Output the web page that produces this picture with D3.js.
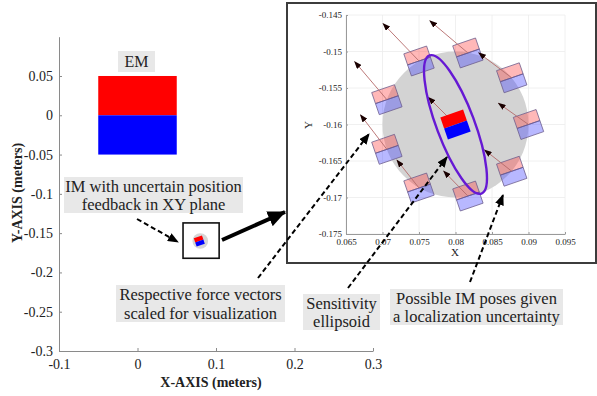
<!DOCTYPE html>
<html>
<head>
<meta charset="utf-8">
<script src="https://cdn.jsdelivr.net/npm/d3@7"></script>
<style>
  body { margin: 0; background: #fff; }
  svg text { font-family: "Liberation Serif", "DejaVu Serif", serif; fill: #222; }
</style>
</head>
<body>
<script>
'use strict'

const serif = '"Liberation Serif", "DejaVu Serif", serif';

// main figure ticks
const mainXTicks = [-0.1, 0, 0.1, 0.2, 0.3];
const mainYTicks = [-0.3, -0.25, -0.2, -0.15, -0.1, -0.05, 0, 0.05];
// electromagnet (EM) extent
const emX = [-0.05, 0.05];
const emY = [-0.05, 0, 0.05];
// IM nominal position + uncertainty radius
const imCenter = [0.08, -0.16];
const uncertaintyRadius = 0.01;
const zoomBoxX = [0.058, 0.104];
const zoomBoxY = [-0.137, -0.182];
// inset ticks
const insetXTicks = [0.065, 0.07, 0.075, 0.08, 0.085, 0.09, 0.095];
const insetYTicks = [-0.175, -0.17, -0.165, -0.16, -0.155, -0.15, -0.145];
// possible IM poses (centers) and force vectors
const poseX = [0.0900, 0.0877, 0.0817, 0.0750, 0.0706, 0.0706, 0.0750, 0.0817, 0.0877];
const poseY = [-0.1600, -0.1536, -0.1502, -0.1513, -0.1566, -0.1634, -0.1687, -0.1698, -0.1664];
const forceU = [-0.0041, -0.0045, -0.0052, -0.0049, -0.0044, -0.0036, -0.0030, -0.0033, -0.0037];
const forceV = [0.0029, 0.0034, 0.0044, 0.0051, 0.0052, 0.0047, 0.0038, 0.0034, 0.0029];
const centerForce = [-0.0037, 0.0037];
const magnetW = 0.0033;
const magnetH = 0.0032;
const magnetTilt = -19;
// sensitivity ellipse
const ellipseA = 0.0101;
const ellipseB = 0.0026;
const ellipseTilt = -20.6;

const w = 597, h = 396;

const svg = d3.select("body").append("svg")
	.attr("width", w)
	.attr("height", h);

const defs = svg.append("defs");
function marker(id, len, wid, color) {
	defs.append("marker")
		.attr("id", id)
		.attr("markerUnits", "userSpaceOnUse")
		.attr("viewBox", `0 ${-wid/2} ${len} ${wid}`)
		.attr("refX", len - 1)
		.attr("refY", 0)
		.attr("markerWidth", len)
		.attr("markerHeight", wid)
		.attr("orient", "auto")
		.append("path")
		.attr("d", `M0,${-wid/2}L${len},0L0,${wid/2}Z`)
		.attr("fill", color);
}
marker("headSmall", 8, 6, "#1a0000");
marker("headDash", 11, 9, "#000");
marker("headThick", 18, 16, "#000");

// ---------- main axes ----------
const xScale = d3.scaleLinear().domain([-0.1, 0.3]).range([59, 373]);
const yScale = d3.scaleLinear().domain([-0.3, 0.1]).range([351, 36.7]);
const fmt = d => d === 0 ? "0" : String(+d.toFixed(3));

const xAxis = svg.append("g")
	.attr("transform", "translate(0," + yScale(-0.3) + ")")
	.call(d3.axisBottom(xScale).tickValues(mainXTicks).tickFormat(fmt).tickSizeInner(-3).tickSizeOuter(0).tickPadding(8));
const yAxis = svg.append("g")
	.attr("transform", "translate(" + xScale(-0.1) + ",0)")
	.call(d3.axisLeft(yScale).tickValues(mainYTicks).tickFormat(fmt).tickSizeInner(-3).tickSizeOuter(0).tickPadding(6));
[xAxis, yAxis].forEach(a => {
	a.attr("font-family", serif);
	a.selectAll("path, line").attr("stroke", "#8a8a8a");
	a.selectAll("text").style("font-size", "14px").style("font-family", serif).attr("fill", "#333");
});

svg.append("text")
	.attr("x", 211).attr("y", 387)
	.attr("text-anchor", "middle")
	.style("font-size", "14px").style("font-weight", "bold").style("font-family", serif)
	.text("X-AXIS (meters)");
svg.append("text")
	.attr("transform", "translate(22,193) rotate(-90)")
	.attr("text-anchor", "middle")
	.style("font-size", "14px").style("font-weight", "bold").style("font-family", serif)
	.text("Y-AXIS (meters)");

// EM
svg.append("rect")
	.attr("x", xScale(emX[0])).attr("y", yScale(emY[2]))
	.attr("width", xScale(emX[1]) - xScale(emX[0]))
	.attr("height", yScale(emY[1]) - yScale(emY[2]))
	.attr("fill", "#ff0000");
svg.append("rect")
	.attr("x", xScale(emX[0])).attr("y", yScale(emY[1]))
	.attr("width", xScale(emX[1]) - xScale(emX[0]))
	.attr("height", yScale(emY[0]) - yScale(emY[1]))
	.attr("fill", "#0000ff");

// label boxes
function labelBox(x0, y0, bw, bh, lines, size) {
	svg.append("rect")
		.attr("x", x0).attr("y", y0).attr("width", bw).attr("height", bh)
		.attr("fill", "#e8e8e8");
	const lh = bh / lines.length;
	lines.forEach((t, i) => {
		svg.append("text")
			.attr("x", x0 + bw / 2).attr("y", y0 + lh * i + lh / 2)
			.attr("dy", "0.35em")
			.attr("text-anchor", "middle")
			.style("font-size", size + "px").style("font-family", serif)
			.text(t);
	});
}
labelBox(118, 51, 37, 21, ["EM"], 16);

// thumbnail of IM in main plot
svg.append("rect")
	.attr("x", xScale(zoomBoxX[0])).attr("y", yScale(zoomBoxY[0]))
	.attr("width", xScale(zoomBoxX[1]) - xScale(zoomBoxX[0]))
	.attr("height", yScale(zoomBoxY[1]) - yScale(zoomBoxY[0]))
	.attr("fill", "#fff").attr("stroke", "#111").attr("stroke-width", 1.6);
svg.append("circle")
	.attr("cx", xScale(imCenter[0])).attr("cy", yScale(imCenter[1]))
	.attr("r", xScale(uncertaintyRadius) - xScale(0))
	.attr("fill", "#d6d6d6");

function magnet(g, cx, cy, mw, mh, tilt, red, blue, op, stroke) {
	const m = g.append("g").attr("transform", `translate(${cx},${cy}) rotate(${tilt})`);
	m.append("rect").attr("x", -mw / 2).attr("y", -mh / 2).attr("width", mw).attr("height", mh / 2)
		.attr("fill", red).attr("fill-opacity", op).attr("stroke", stroke).attr("stroke-width", stroke ? 0.7 : 0);
	m.append("rect").attr("x", -mw / 2).attr("y", 0).attr("width", mw).attr("height", mh / 2)
		.attr("fill", blue).attr("fill-opacity", op).attr("stroke", stroke).attr("stroke-width", stroke ? 0.7 : 0);
}
const thumbSize = xScale(0.011) - xScale(0);
magnet(svg, xScale(imCenter[0]) - 1, yScale(imCenter[1]), thumbSize, thumbSize, magnetTilt, "#ff0000", "#0000ff", 1, null);

// ---------- inset ----------
svg.append("rect")
	.attr("x", 287).attr("y", 3).attr("width", 309).attr("height", 260)
	.attr("fill", "#fff").attr("stroke", "#3c3c3c").attr("stroke-width", 2);

const ix = d3.scaleLinear().domain([0.065, 0.095]).range([346, 565]);
const iy = d3.scaleLinear().domain([-0.175, -0.145]).range([234, 15]);

const inset = svg.append("g");
// grid
inset.selectAll(".gx").data(insetXTicks).enter().append("line")
	.attr("x1", d => ix(d)).attr("x2", d => ix(d))
	.attr("y1", iy(-0.175)).attr("y2", iy(-0.145))
	.attr("stroke", "#ececec").attr("stroke-width", 0.8);
inset.selectAll(".gy").data(insetYTicks).enter().append("line")
	.attr("y1", d => iy(d)).attr("y2", d => iy(d))
	.attr("x1", ix(0.065)).attr("x2", ix(0.095))
	.attr("stroke", "#ececec").attr("stroke-width", 0.8);

const ixAxis = inset.append("g")
	.attr("transform", "translate(0," + iy(-0.175) + ")")
	.call(d3.axisBottom(ix).tickValues(insetXTicks).tickFormat(fmt).tickSizeInner(-2).tickSizeOuter(0).tickPadding(5));
const iyAxis = inset.append("g")
	.attr("transform", "translate(" + ix(0.065) + ",0)")
	.call(d3.axisLeft(iy).tickValues(insetYTicks).tickFormat(fmt).tickSizeInner(-2).tickSizeOuter(0).tickPadding(4));
[ixAxis, iyAxis].forEach(a => {
	a.selectAll("path, line").attr("stroke", "#9a9a9a");
	a.selectAll("text").style("font-size", "9px").style("font-family", serif).attr("fill", "#444");
});
inset.append("text").attr("x", 455).attr("y", 256).attr("text-anchor", "middle")
	.style("font-size", "11px").style("font-family", serif).attr("fill", "#444").text("X");
inset.append("text").attr("transform", "translate(312,125) rotate(-90)").attr("text-anchor", "middle")
	.style("font-size", "11px").style("font-family", serif).attr("fill", "#444").text("Y");

// uncertainty disk
inset.append("circle")
	.attr("cx", ix(imCenter[0])).attr("cy", iy(imCenter[1]))
	.attr("r", ix(uncertaintyRadius) - ix(0))
	.attr("fill", "#d3d3d3");

// possible poses
const mw = ix(magnetW) - ix(0), mh = ix(magnetH) - ix(0);
poseX.forEach((px, i) => {
	magnet(inset, ix(px), iy(poseY[i]), mw, mh, magnetTilt, "#ff3b3b", "#3b3bff", 0.36, "#6a5a8a");
});

// force vectors
const arrows = poseX.map((px, i) => ({ x: px, y: poseY[i], u: forceU[i], v: forceV[i] }));
arrows.push({ x: imCenter[0], y: imCenter[1], u: centerForce[0], v: centerForce[1] });
inset.selectAll(".force").data(arrows).enter().append("line")
	.attr("x1", d => ix(d.x)).attr("y1", d => iy(d.y))
	.attr("x2", d => ix(d.x + d.u)).attr("y2", d => iy(d.y + d.v))
	.attr("stroke", "#b46a6a").attr("stroke-width", 0.9)
	.attr("marker-end", "url(#headSmall)");

// sensitivity ellipse
inset.append("ellipse")
	.attr("transform", `translate(${ix(imCenter[0])},${iy(imCenter[1])}) rotate(${ellipseTilt})`)
	.attr("rx", ix(ellipseB) - ix(0))
	.attr("ry", ix(ellipseA) - ix(0))
	.attr("fill", "none").attr("stroke", "#6619d4").attr("stroke-width", 2.4);

// nominal IM
magnet(inset, ix(imCenter[0]), iy(imCenter[1]), mw, mh, magnetTilt, "#ff0000", "#0000ff", 1, null);

// ---------- annotations ----------
labelBox(64, 177, 179, 36, ["IM with uncertain position", "feedback in XY plane"], 16.5);
labelBox(116, 285, 169, 37, ["Respective force vectors", "scaled for visualization"], 16.5);
labelBox(303, 294, 77, 36, ["Sensitivity", "ellipsoid"], 16.5);
labelBox(390, 289, 173, 36, ["Possible IM poses given", "a localization uncertainty"], 16.5);

function dashedArrow(x1, y1, x2, y2) {
	svg.append("line")
		.attr("x1", x1).attr("y1", y1).attr("x2", x2).attr("y2", y2)
		.attr("stroke", "#000").attr("stroke-width", 2)
		.attr("stroke-dasharray", "5,3")
		.attr("marker-end", "url(#headDash)");
}
dashedArrow(137, 219, 178, 242);
dashedArrow(258, 278, 369, 134);
dashedArrow(348, 288, 447, 157);
dashedArrow(470, 282, 503, 195);

svg.append("line")
	.attr("x1", 222).attr("y1", 240).attr("x2", 285).attr("y2", 212)
	.attr("stroke", "#000").attr("stroke-width", 4)
	.attr("marker-end", "url(#headThick)");
</script>
</body>
</html>
